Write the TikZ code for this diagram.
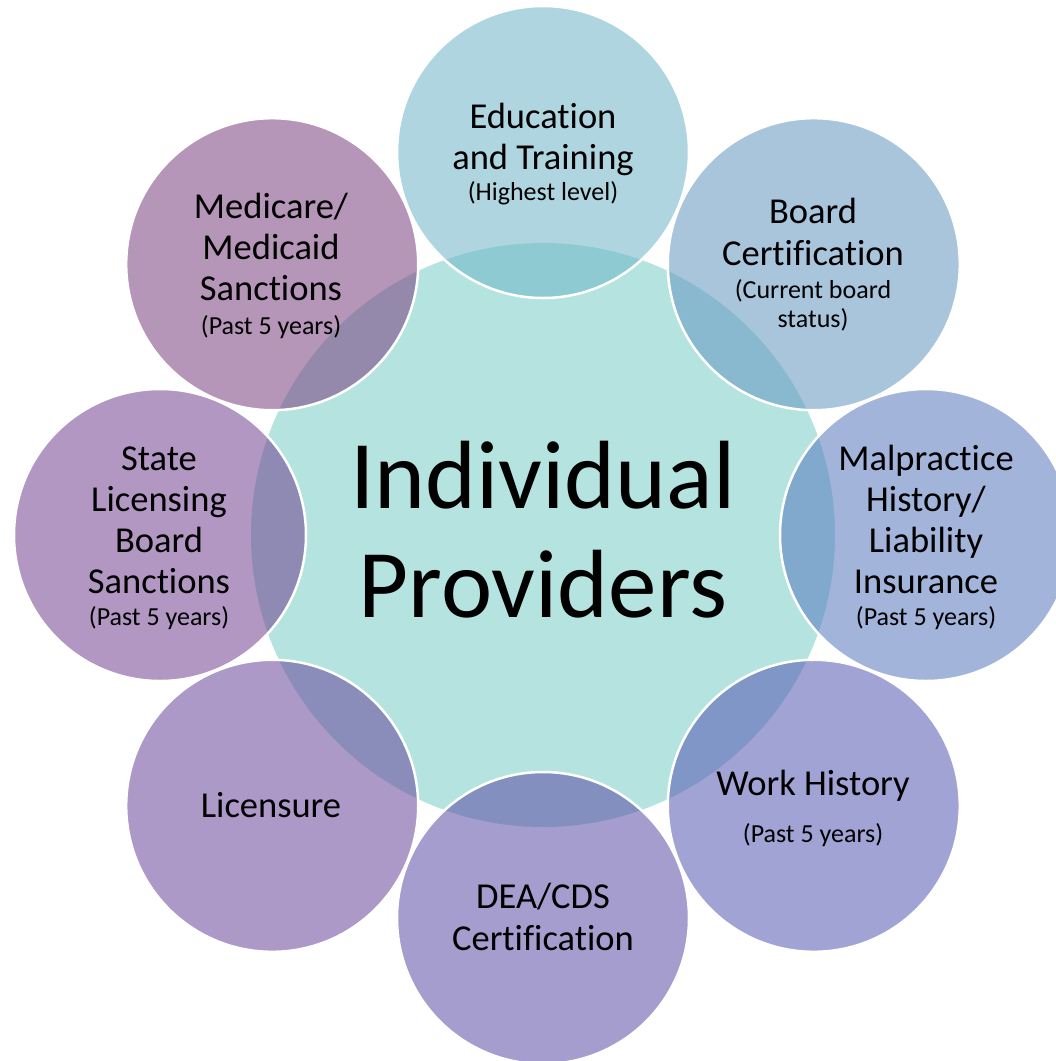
\documentclass[tikz,border=0pt]{standalone}
\usepackage{fontspec}
\setmainfont[Ligatures=CommonOff]{Carlito}
\definecolor{cHub}{RGB}{181,227,224}
\definecolor{cEdu}{RGB}{110,182,199}
\definecolor{cBoard}{RGB}{100,151,193}
\definecolor{cMal}{RGB}{88,120,191}
\definecolor{cWork}{RGB}{84,88,177}
\definecolor{cDea}{RGB}{91,77,164}
\definecolor{cLic}{RGB}{104,71,153}
\definecolor{cState}{RGB}{113,66,144}
\definecolor{cMed}{RGB}{122,64,126}
\tikzset{
  ring/.style={circle, minimum size=292pt, inner sep=0pt, draw=white, line width=2.5pt, fill opacity=0.55},
  hubstyle/.style={circle, minimum size=584pt, inner sep=0pt, fill=cHub},
  bigtxt/.style={anchor=base, inner sep=0pt, font=\fontsize{36.5}{40}\selectfont},
  smalltxt/.style={anchor=base, inner sep=0pt, font=\fontsize{26}{29}\selectfont},
  titletxt/.style={anchor=base, inner sep=0pt, font=\fontsize{97}{110}\selectfont},
}
\begin{document}
\begin{tikzpicture}[x=1pt,y=-1pt]
\useasboundingbox (0,0) rectangle (1056,1061);
\clip (0,0) rectangle (1056,1061);
\fill[white] (0,0) rectangle (1056,1061);
% hub
\node[hubstyle] (hub) at (543,535) {};
% satellites
\node[ring, fill=cEdu]   (edu)   at (543,152) {};
\node[ring, fill=cBoard] (board) at (813.8,264.2) {};
\node[ring, fill=cMal]   (mal)   at (926,535) {};
\node[ring, fill=cWork]  (work)  at (813.8,805.8) {};
\node[ring, fill=cDea]   (dea)   at (543,918) {};
\node[ring, fill=cLic]   (lic)   at (272.2,805.8) {};
\node[ring, fill=cState] (state) at (160,535) {};
\node[ring, fill=cMed]   (med)   at (272.2,264.2) {};
% hub text
\node[titletxt] (t1) at (543,508) {Individual};
\node[titletxt] (t2) at (543,617) {Providers};
% education
\node[bigtxt] (e1) at (543,128) {Education};
\node[bigtxt] (e2) at (543,169) {and Training};
\node[smalltxt] (e3) at (543,200) {(Highest level)};
% board
\node[bigtxt] (b1) at (813,223) {Board};
\node[bigtxt] (b2) at (813,265) {Certification};
\node[smalltxt] (b3) at (813,298) {(Current board};
\node[smalltxt] (b4) at (813,327) {status)};
% malpractice
\node[bigtxt] (m1) at (926,470) {Malpractice};
\node[bigtxt] (m2) at (926,511) {History/};
\node[bigtxt] (m3) at (926,552) {Liability};
\node[bigtxt] (m4) at (926,593) {Insurance};
\node[smalltxt] (m5) at (926,625) {(Past 5 years)};
% work history
\node[bigtxt] (w1) at (813,795) {Work History};
\node[smalltxt] (w2) at (813,842) {(Past 5 years)};
% DEA
\node[bigtxt] (d1) at (543,908) {DEA/CDS};
\node[bigtxt] (d2) at (543,950) {Certification};
% licensure
\node[bigtxt] (l1) at (271,817) {Licensure};
% state
\node[bigtxt] (s1) at (159,470) {State};
\node[bigtxt] (s2) at (159,511) {Licensing};
\node[bigtxt] (s3) at (159,552) {Board};
\node[bigtxt] (s4) at (159,593) {Sanctions};
\node[smalltxt] (s5) at (159,625) {(Past 5 years)};
% medicare
\node[bigtxt] (c1) at (271,218) {Medicare/};
\node[bigtxt] (c2) at (271,259) {Medicaid};
\node[bigtxt] (c3) at (271,300) {Sanctions};
\node[smalltxt] (c4) at (271,334) {(Past 5 years)};
\end{tikzpicture}
\end{document}
